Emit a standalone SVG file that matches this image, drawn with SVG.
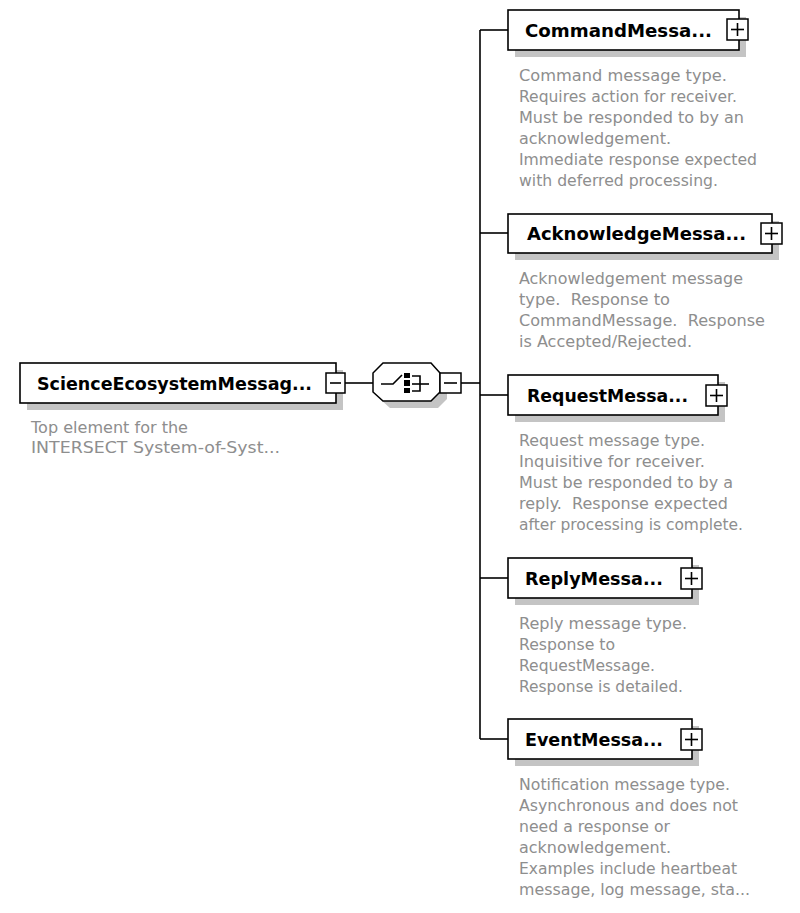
<svg xmlns="http://www.w3.org/2000/svg" width="800" height="913" viewBox="0 0 800 913">
<style>
.box{fill:#fff;stroke:#000;stroke-width:1.6}
.shadow{fill:#c4c4c4}
.sym{fill:#fff;stroke:#000;stroke-width:1.5}
.ln{stroke:#000;stroke-width:1.6;fill:none}
.title{font-family:"DejaVu Sans",sans-serif;font-weight:bold;font-size:17px;fill:#000}
.desc{font-family:"DejaVu Sans",sans-serif;font-size:15px;fill:#8e8e8e;white-space:pre}
</style>
<rect width="800" height="913" fill="#fff"/>
<g id="connectors">
<line class="ln" x1="345" y1="383" x2="373" y2="383"/>
<line class="ln" x1="461" y1="383" x2="480" y2="383"/>
<line class="ln" x1="480" y1="30" x2="480" y2="739"/>
<line class="ln" x1="480" y1="30" x2="508" y2="30"/>
<line class="ln" x1="480" y1="233" x2="508" y2="233"/>
<line class="ln" x1="480" y1="395" x2="508" y2="395"/>
<line class="ln" x1="480" y1="578" x2="508" y2="578"/>
<line class="ln" x1="480" y1="739" x2="508" y2="739"/>
</g>
<g id="root">
<rect class="shadow" x="27" y="370" width="316" height="40"/>
<rect class="box" x="20" y="363" width="316" height="40"/>
<text class="title" x="37" y="390" textLength="275" lengthAdjust="spacingAndGlyphs">ScienceEcosystemMessag...</text>
<rect class="sym" x="326" y="373" width="19" height="20"/>
<line class="ln" x1="330" y1="383" x2="341" y2="383"/>
<text class="desc" x="31" y="433" textLength="157" lengthAdjust="spacingAndGlyphs">Top element for the</text>
<text class="desc" x="31" y="453" textLength="249" lengthAdjust="spacingAndGlyphs">INTERSECT System-of-Syst...</text>
</g>
<g id="choice">
<polygon class="shadow" points="390,370 438,370 447,380 447,399 438,408 390,408 380,399 380,380"/>
<polygon class="sym" points="383,363 431,363 440,373 440,392 431,401 383,401 373,392 373,373"/>
<polyline class="ln" points="381,384 393,384 402,375"/>
<rect x="404" y="373" width="6" height="5" fill="#000"/>
<rect x="404" y="380" width="6" height="6" fill="#000"/>
<rect x="404" y="388" width="6" height="5" fill="#000"/>
<polyline class="ln" points="412,376 420,376 420,391 412,391"/>
<line class="ln" x1="412" y1="384" x2="429" y2="384"/>
<rect class="sym" x="440" y="373" width="21" height="20"/>
<line class="ln" x1="444" y1="383" x2="457" y2="383"/>
</g>
<g id="command">
<rect class="shadow" x="515" y="17" width="231" height="40"/>
<rect class="box" x="508" y="10" width="231" height="40"/>
<text class="title" x="525" y="37" textLength="187" lengthAdjust="spacingAndGlyphs">CommandMessa...</text>
<rect class="sym" x="727" y="19" width="21" height="21"/>
<line class="ln" x1="731" y1="29.5" x2="744" y2="29.5"/>
<line class="ln" x1="737.5" y1="23" x2="737.5" y2="36"/>
<text class="desc" x="519" y="81" textLength="208" lengthAdjust="spacingAndGlyphs">Command message type.</text>
<text class="desc" x="519" y="102" textLength="218" lengthAdjust="spacingAndGlyphs">Requires action for receiver.</text>
<text class="desc" x="519" y="123" textLength="225" lengthAdjust="spacingAndGlyphs">Must be responded to by an</text>
<text class="desc" x="519" y="144" textLength="152" lengthAdjust="spacingAndGlyphs">acknowledgement.</text>
<text class="desc" x="519" y="165" textLength="238" lengthAdjust="spacingAndGlyphs">Immediate response expected</text>
<text class="desc" x="519" y="186" textLength="199" lengthAdjust="spacingAndGlyphs">with deferred processing.</text>
</g>
<g id="acknowledge">
<rect class="shadow" x="515" y="221" width="264" height="39"/>
<rect class="box" x="508" y="214" width="264" height="39"/>
<text class="title" x="527" y="240" textLength="219" lengthAdjust="spacingAndGlyphs">AcknowledgeMessa...</text>
<rect class="sym" x="761" y="223" width="21" height="21"/>
<line class="ln" x1="765" y1="233.5" x2="778" y2="233.5"/>
<line class="ln" x1="771.5" y1="227" x2="771.5" y2="240"/>
<text class="desc" x="519" y="284" textLength="224" lengthAdjust="spacingAndGlyphs">Acknowledgement message</text>
<text class="desc" x="519" y="305" textLength="151" lengthAdjust="spacingAndGlyphs">type.  Response to</text>
<text class="desc" x="519" y="326" textLength="246" lengthAdjust="spacingAndGlyphs">CommandMessage.  Response</text>
<text class="desc" x="519" y="347" textLength="173" lengthAdjust="spacingAndGlyphs">is Accepted/Rejected.</text>
</g>
<g id="request">
<rect class="shadow" x="515" y="382" width="210" height="40"/>
<rect class="box" x="508" y="375" width="210" height="40"/>
<text class="title" x="527" y="402" textLength="161" lengthAdjust="spacingAndGlyphs">RequestMessa...</text>
<rect class="sym" x="706" y="385" width="21" height="21"/>
<line class="ln" x1="710" y1="395.5" x2="723" y2="395.5"/>
<line class="ln" x1="716.5" y1="389" x2="716.5" y2="402"/>
<text class="desc" x="519" y="446" textLength="186" lengthAdjust="spacingAndGlyphs">Request message type.</text>
<text class="desc" x="519" y="467" textLength="186" lengthAdjust="spacingAndGlyphs">Inquisitive for receiver.</text>
<text class="desc" x="519" y="488" textLength="214" lengthAdjust="spacingAndGlyphs">Must be responded to by a</text>
<text class="desc" x="519" y="509" textLength="209" lengthAdjust="spacingAndGlyphs">reply.  Response expected</text>
<text class="desc" x="519" y="530" textLength="224" lengthAdjust="spacingAndGlyphs">after processing is complete.</text>
</g>
<g id="reply">
<rect class="shadow" x="515" y="565" width="184" height="40"/>
<rect class="box" x="508" y="558" width="184" height="40"/>
<text class="title" x="525" y="585" textLength="138" lengthAdjust="spacingAndGlyphs">ReplyMessa...</text>
<rect class="sym" x="681" y="568" width="21" height="21"/>
<line class="ln" x1="685" y1="578.5" x2="698" y2="578.5"/>
<line class="ln" x1="691.5" y1="572" x2="691.5" y2="585"/>
<text class="desc" x="519" y="629" textLength="168" lengthAdjust="spacingAndGlyphs">Reply message type.</text>
<text class="desc" x="519" y="650" textLength="96" lengthAdjust="spacingAndGlyphs">Response to</text>
<text class="desc" x="519" y="671" textLength="136" lengthAdjust="spacingAndGlyphs">RequestMessage.</text>
<text class="desc" x="519" y="692" textLength="164" lengthAdjust="spacingAndGlyphs">Response is detailed.</text>
</g>
<g id="event">
<rect class="shadow" x="515" y="726" width="184" height="40"/>
<rect class="box" x="508" y="719" width="184" height="40"/>
<text class="title" x="525" y="746" textLength="138" lengthAdjust="spacingAndGlyphs">EventMessa...</text>
<rect class="sym" x="681" y="729" width="21" height="21"/>
<line class="ln" x1="685" y1="739.5" x2="698" y2="739.5"/>
<line class="ln" x1="691.5" y1="733" x2="691.5" y2="746"/>
<text class="desc" x="519" y="790" textLength="211" lengthAdjust="spacingAndGlyphs">Notification message type.</text>
<text class="desc" x="519" y="811" textLength="219" lengthAdjust="spacingAndGlyphs">Asynchronous and does not</text>
<text class="desc" x="519" y="832" textLength="151" lengthAdjust="spacingAndGlyphs">need a response or</text>
<text class="desc" x="519" y="853" textLength="152" lengthAdjust="spacingAndGlyphs">acknowledgement.</text>
<text class="desc" x="519" y="874" textLength="218" lengthAdjust="spacingAndGlyphs">Examples include heartbeat</text>
<text class="desc" x="519" y="895" textLength="231" lengthAdjust="spacingAndGlyphs">message, log message, sta...</text>
</g>
</svg>
